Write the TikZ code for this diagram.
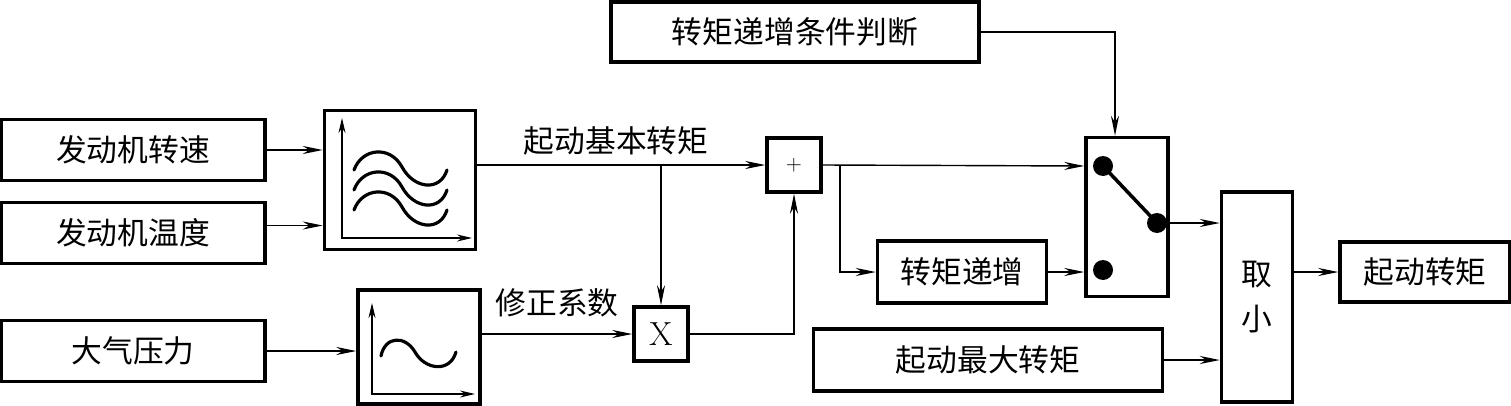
\documentclass[tikz,border=0pt]{standalone}
\usepackage{fontspec}
\newfontfamily\cjk{Noto Sans CJK SC}
\usetikzlibrary{arrows.meta}

\begin{document}
\begin{tikzpicture}[x=0.2mm,y=-0.2mm,
        blk/.style={draw, line width=2pt, inner sep=0pt, font=\cjk\fontsize{17.5}{21}\selectfont},
        lbl/.style={inner sep=0pt, font=\cjk\fontsize{17.5}{21}\selectfont},
        con/.style={line width=0.8pt, -{Stealth[length=4mm,width=1.6mm]}},
        axis/.style={line width=0.8pt, {Stealth[length=3mm,width=1.4mm]}-{Stealth[length=3mm,width=1.4mm]}},
        curve/.style={line width=1.8pt, line cap=round}]
            \useasboundingbox (0,0) rectangle (1511,406);
            % inputs
            \node[blk, minimum width=5.28cm, minimum height=1.22cm] (speed) at (133,150) {发动机转速};
            \node[blk, minimum width=5.28cm, minimum height=1.22cm] (temp) at (133,233) {发动机温度};
            \node[blk, minimum width=5.28cm, minimum height=1.22cm] (press) at (133,351) {大气压力};
            % maps
            \node[blk, minimum width=3.02cm, minimum height=2.78cm] (mapA) at (400,180) {};
            \node[blk, minimum width=2.44cm, minimum height=2.28cm] (mapB) at (419,347) {};
            \draw[axis] (342,118) -- (342,238) -- (472,238);
            \foreach \dy in {0,20,40}
                \draw[curve] (354,170+\dy) .. controls (362,148+\dy) and (390,145+\dy) .. (402,167+\dy)
                    .. controls (414,189+\dy) and (440,192+\dy) .. (447,170+\dy);
            \draw[axis] (372,303) -- (372,394) -- (475,394);
            \draw[curve] (381,356) .. controls (385,336) and (405,335) .. (415,352)
                .. controls (425,370) and (450,373) .. (456,352);
            % operators
            \node[blk, minimum width=1.08cm, minimum height=1.08cm, font=\fontsize{12}{12}\selectfont] (plus) at (794,165) {$+$};
            \node[blk, minimum width=1.08cm, minimum height=1.08cm, font=\fontsize{19}{19}\selectfont] (mult) at (661,334) {X};
            \node[blk, minimum width=7.36cm, minimum height=1.20cm] (cond) at (795,32) {转矩递增条件判断};
            \node[blk, minimum width=3.38cm, minimum height=1.24cm] (ramp) at (962,272) {转矩递增};
            \node[blk, minimum width=1.64cm, minimum height=3.18cm] (sw) at (1127,217) {};
            \node[blk, minimum width=6.98cm, minimum height=1.24cm] (maxT) at (988,360) {起动最大转矩};
            \node[blk, minimum width=1.42cm, minimum height=4.20cm, align=center] (minsel) at (1257,297) {取\\[0.15cm]小};
            \node[blk, minimum width=3.40cm, minimum height=1.20cm] (out) at (1425,272) {起动转矩};
            % labels
            \node[lbl] (base) at (616,141) {起动基本转矩};
            \node[lbl] (corr) at (557,303) {修正系数};
            % switch
            \coordinate (d1) at (1103,166);
            \coordinate (d2) at (1157,223);
            \coordinate (d3) at (1103,270);
            \draw[line width=2pt] (d1) -- (d2);
            \fill (d1) circle (2mm);
            \fill (d2) circle (2mm);
            \fill (d3) circle (2mm);
            % connectors
            \draw[con] (speed.east) -- (speed.east -| mapA.west);
            \draw[con] ([yshift=0.15cm]temp.east) -- ([yshift=0.15cm]temp.east -| mapA.west);
            \draw[con] (press.east) -- (press.east -| mapB.west);
            \draw[con] (plus -| mapA.east) -- (plus.west);
            \coordinate (b1) at (mult |- plus);
            \draw[con] (b1) -- (mult.north);
            \draw[con] (mult -| mapB.east) -- (mult.west);
            \draw[con] (mult.east) -| (plus.south);
            \draw[con] (plus.east) -- (d1 -| sw.west);
            \coordinate (b2) at (840,166);
            \draw[con] (b2) |- (ramp.west);
            \draw[con] (ramp.east) -- (ramp -| sw.west);
            \draw[con] (cond.east) -| ([xshift=-0.24cm]sw.north);
            \draw[con] (d2 -| sw.east) -- (d2 -| minsel.west);
            \draw[con] (maxT.east) -- (maxT -| minsel.west);
            \draw[con] (out -| minsel.east) -- (out.west);
        \end{tikzpicture}
\end{document}
